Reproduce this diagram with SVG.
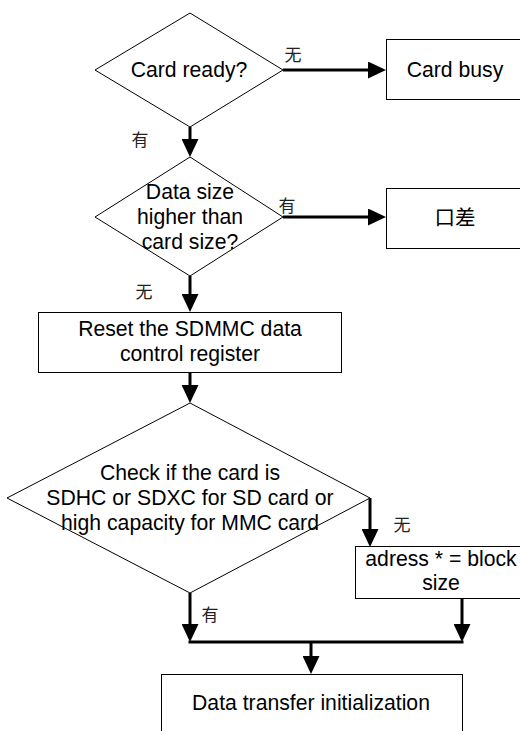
<svg xmlns="http://www.w3.org/2000/svg" width="520" height="731" viewBox="0 0 520 731">
<defs>
<marker id="ah" markerUnits="userSpaceOnUse" markerWidth="18" markerHeight="17" refX="0" refY="8.5" orient="auto">
<path d="M0,0 L18,8.5 L0,17 Z" fill="#000"/>
</marker>
<style>
.shape{fill:#fff;stroke:#000;stroke-width:1}
.t{font-family:"Liberation Sans",Arial,sans-serif;font-size:21.2px;fill:#000;text-anchor:middle}
.c{font-family:"Liberation Sans","Noto Sans CJK SC",sans-serif;font-size:20.5px;fill:#000;text-anchor:middle}
.l{font-family:"Noto Sans CJK SC",sans-serif;font-size:17px;fill:#222;text-anchor:middle}
.cn{fill:none;stroke:#000;stroke-width:3}
.ca{fill:none;stroke:#000;stroke-width:3;marker-end:url(#ah)}
</style>
</defs>
<rect width="520" height="731" fill="#fff"/>
<g id="connectors">
<path class="ca" d="M283,70 H368"/>
<path class="ca" d="M190,127 V139"/>
<path class="ca" d="M283,217 H368"/>
<path class="ca" d="M190,276 V294"/>
<path class="ca" d="M190,372 V385"/>
<path class="ca" d="M370,498 V529"/>
<path class="ca" d="M190,593 V624"/>
<path class="ca" d="M462,597 V624"/>
<path class="cn" d="M188.5,642 H463.5"/>
<path class="ca" d="M311,642 V656"/>
<text class="l" x="293" y="61">无</text>
<text class="l" x="140" y="146">有</text>
<text class="l" x="287" y="212">有</text>
<text class="l" x="144" y="298">无</text>
<text class="l" x="402" y="531">无</text>
<text class="l" x="210" y="621">有</text>
</g>
<g id="n1"><polygon class="shape" points="190,13 283,70 190,127 95,70"/><text class="t" x="189" y="77">Card ready?</text></g>
<g id="n2"><rect class="shape" x="386.5" y="39.5" width="140" height="60"/><text class="t" x="455" y="77">Card busy</text></g>
<g id="n3"><polygon class="shape" points="190,157 283,217 190,276 95,217"/><text class="t" x="190" y="199">Data size</text><text class="t" x="190" y="224">higher than</text><text class="t" x="190" y="249">card size?</text></g>
<g id="n4"><rect class="shape" x="386.5" y="188.5" width="140" height="60"/><text class="c" x="455" y="225">口差</text></g>
<g id="n5"><rect class="shape" x="38.5" y="312.5" width="303" height="60"/><text class="t" x="190" y="336">Reset the SDMMC data</text><text class="t" x="190" y="361">control register</text></g>
<g id="n6"><polygon class="shape" points="190,403 370,498 190,593 7,498"/><text class="t" x="190" y="480">Check if the card is</text><text class="t" x="190" y="505">SDHC or SDXC for SD card or</text><text class="t" x="190" y="530">high capacity for MMC card</text></g>
<g id="n7"><rect class="shape" x="355.5" y="546.5" width="172" height="52"/><text class="t" x="441" y="566">adress * = block</text><text class="t" x="441" y="590">size</text></g>
<g id="n8"><rect class="shape" x="161.5" y="674.5" width="301" height="70"/><text class="t" x="311" y="710">Data transfer initialization</text></g>
</svg>
